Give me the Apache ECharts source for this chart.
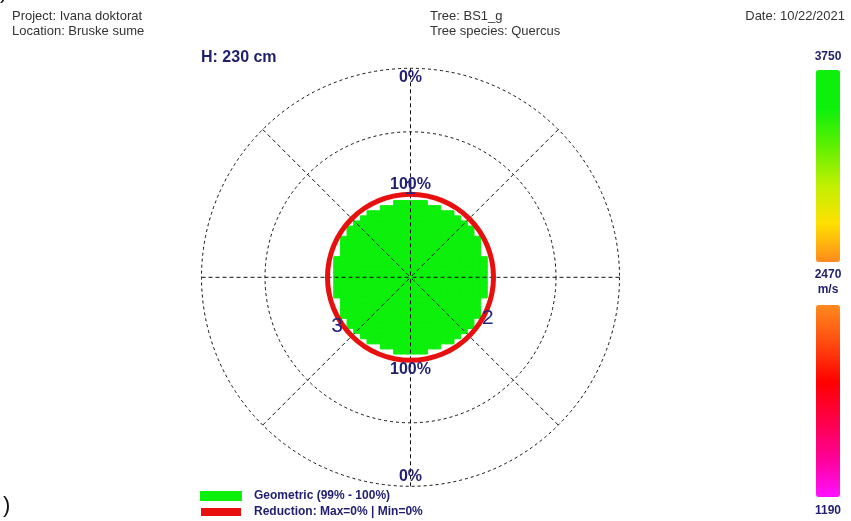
<!DOCTYPE html>
<html><head><meta charset="utf-8">
<script src="https://cdn.jsdelivr.net/npm/echarts@6/dist/echarts.min.js"></script>
<style>html,body{margin:0;padding:0;background:#fff}#c{width:851px;height:521px}</style>
</head><body><div id="c"></div>
<script>
// ---------- data ----------
const headerLeft = ['Project: Ivana doktorat', 'Location: Bruske sume'];
const headerMid = ['Tree: BS1_g', 'Tree species: Quercus'];
const headerDate = 'Date: 10/22/2021';
const heightLabel = 'H: 230 cm';
const velocityTicks = ['3750', '2470', '1190'];
const velocityUnit = 'm/s';
const velocityUpper = [2470, 3750];
const velocityLower = [1190, 2470];
const ringLabels = ['0%', '100%', '100%', '0%'];
const legendNames = ['Geometric (99% - 100%)', 'Reduction: Max=0% | Min=0%'];
const sensorNames = ['1', '2', '3'];
const sensorAngles = [0, 118, 236];      // degrees clockwise from top
const sensorRadius = [104, 103, 103];    // % of tree radius
// tomogram raster: half width (in cells) of every raster row, top to bottom
const tomoRowHalfWidth = [2, 4, 6, 7, 8, 9, 9, 10, 10, 10, 10, 11, 11, 11, 11, 11, 11, 11, 11, 10, 10, 10, 10, 9, 9, 8, 7, 6, 4, 2];
const tomoColumns = 23;
const tomoVelocity = 3750;               // m/s in every cell
const intactPercent = [100];             // reduction 0 %

// ---------- build ----------
const FONT = 'Liberation Sans';
const NAVY = '#1f1f6e';
const GREEN = '#0cf00c';
const RED = '#e8100e';
const C = [410.5, 277.3];

const mid = (tomoColumns - 1) / 2;
const cells = [];
tomoRowHalfWidth.forEach((hw, r) => {
  for (let c = mid - hw; c <= mid + hw; c++) cells.push([c, r, tomoVelocity]);
});
const colCats = Array.from({length: tomoColumns}, (_, i) => i);
const rowCats = tomoRowHalfWidth.map((_, i) => i);

const hidden = {axisLine: {show: false}, axisTick: {show: false}, axisLabel: {show: false}, splitLine: {show: false}};
const dash = {color: '#111', width: 1, type: [3, 3]};

function txt(x, y, t, o) {
  return Object.assign({type: 'text', x: x, y: y, silent: true, z: 50,
    style: Object.assign({text: t, fontFamily: FONT, fontSize: 13, fill: '#333', align: 'left', verticalAlign: 'middle'}, o || {})});
}

const chart = echarts.init(document.getElementById('c'), null, {renderer: 'canvas'});
chart.setOption({
  backgroundColor: '#fff',
  animation: false,
  grid: {left: 334, top: 200.8, width: 153, height: 153},
  xAxis: Object.assign({type: 'category', data: colCats, boundaryGap: true}, hidden),
  yAxis: Object.assign({type: 'category', data: rowCats, inverse: true, boundaryGap: true}, hidden),
  polar: [
    {center: C, radius: 209},
    {center: C, radius: 145.5},
    {center: C, radius: 94.05}
  ],
  angleAxis: [
    {polarIndex: 0, type: 'value', min: 0, max: 360, interval: 45, startAngle: 90, z: 3,
      axisLine: {show: true, lineStyle: dash}, axisTick: {show: false}, axisLabel: {show: false},
      splitLine: {show: true, lineStyle: {color: '#111', width: 1, type: [4, 3]}}},
    {polarIndex: 1, type: 'value', min: 0, max: 360, startAngle: 90,
      axisLine: {show: true, lineStyle: dash}, axisTick: {show: false}, axisLabel: {show: false}, splitLine: {show: false}},
    Object.assign({polarIndex: 2, type: 'value', min: 0, max: 360, startAngle: 90}, hidden)
  ],
  radiusAxis: [
    Object.assign({polarIndex: 0, type: 'value', min: 0, max: 1}, hidden),
    Object.assign({polarIndex: 1, type: 'value', min: 0, max: 1}, hidden),
    Object.assign({polarIndex: 2, type: 'value', min: 0, max: 110}, hidden)
  ],
  visualMap: [
    {type: 'continuous', seriesIndex: 0, min: velocityUpper[0], max: velocityUpper[1], calculable: false,
      left: 816, top: 70, itemWidth: 24, itemHeight: 192, padding: 0, text: null, hoverLink: false,
      inRange: {color: ['#ff8a1c', '#ffe000', '#c0f000', '#60f000', GREEN, GREEN]}},
    {type: 'continuous', seriesIndex: 3, min: velocityLower[0], max: velocityLower[1], calculable: false,
      left: 816, top: 305, itemWidth: 24, itemHeight: 192, padding: 0, text: null, hoverLink: false,
      inRange: {color: ['#ff10ff', '#ff0098', '#ff0048', '#ff0000', '#ff4a10', '#ff8a1c']}}
  ],
  legend: {
    orient: 'vertical', left: 200, top: 490, padding: 0, itemWidth: 40, itemHeight: 8, itemGap: 4,
    icon: 'rect', selectedMode: false,
    textStyle: {fontFamily: FONT, fontWeight: 'bold', fontSize: 12, color: NAVY, padding: [0, 0, 0, 8]},
    data: [{name: legendNames[0], itemStyle: {color: GREEN}}, {name: legendNames[1], itemStyle: {color: RED}}]
  },
  series: [
    {name: legendNames[0], type: 'heatmap', xAxisIndex: 0, yAxisIndex: 0, data: cells, silent: true, z: 2,
      itemStyle: {borderWidth: 1, borderColor: GREEN}, emphasis: {disabled: true}},
    {name: 'reduction', type: 'pie', center: C, radius: [80.5, 85.5], startAngle: 90, silent: true, z: 4,
      label: {show: false}, labelLine: {show: false}, emphasis: {disabled: true},
      data: [{name: legendNames[1], value: intactPercent[0], itemStyle: {color: RED}}]},
    {name: 'sensors', type: 'scatter', coordinateSystem: 'polar', polarIndex: 2, symbolSize: 1, silent: true, z: 60,
      clip: false, itemStyle: {color: 'rgba(0,0,0,0)'},
      data: sensorNames.map((n, i) => ({name: n, value: [sensorRadius[i], sensorAngles[i]]})),
      label: {show: true, position: [0, 0], align: 'center', verticalAlign: 'middle', formatter: '{b}',
        fontFamily: FONT, fontSize: 21, color: '#24247a', opacity: 1, textBorderWidth: 0}},
    {name: 'scale', type: 'scatter', coordinateSystem: 'polar', polarIndex: 0, data: []}
  ],
  graphic: [
    txt(12, 16, headerLeft[0]), txt(12, 31, headerLeft[1]),
    txt(430, 16, headerMid[0]), txt(430, 31, headerMid[1]),
    txt(845, 16, headerDate, {align: 'right'}),
    txt(201, 57.5, heightLabel, {fontSize: 16, fontWeight: 'bold', fill: NAVY}),
    txt(410.5, 77.5, ringLabels[0], {fontSize: 16, fontWeight: 'bold', fill: NAVY, align: 'center'}),
    txt(410.5, 184.2, ringLabels[1], {fontSize: 16, fontWeight: 'bold', fill: NAVY, align: 'center'}),
    txt(410.5, 369.8, ringLabels[2], {fontSize: 16, fontWeight: 'bold', fill: NAVY, align: 'center'}),
    txt(410.5, 476.7, ringLabels[3], {fontSize: 16, fontWeight: 'bold', fill: NAVY, align: 'center'}),
    txt(828, 57, velocityTicks[0], {fontSize: 12, fontWeight: 'bold', fill: NAVY, align: 'center'}),
    txt(828, 275, velocityTicks[1], {fontSize: 12, fontWeight: 'bold', fill: NAVY, align: 'center'}),
    txt(828, 290, velocityUnit, {fontSize: 12, fontWeight: 'bold', fill: NAVY, align: 'center'}),
    txt(828, 511, velocityTicks[2], {fontSize: 12, fontWeight: 'bold', fill: NAVY, align: 'center'}),
    txt(3, 506, ')', {fontSize: 22, fill: '#111'}),
    txt(0, -8, ')', {fontSize: 22, fill: '#111'})
  ]
});
</script></body></html>
